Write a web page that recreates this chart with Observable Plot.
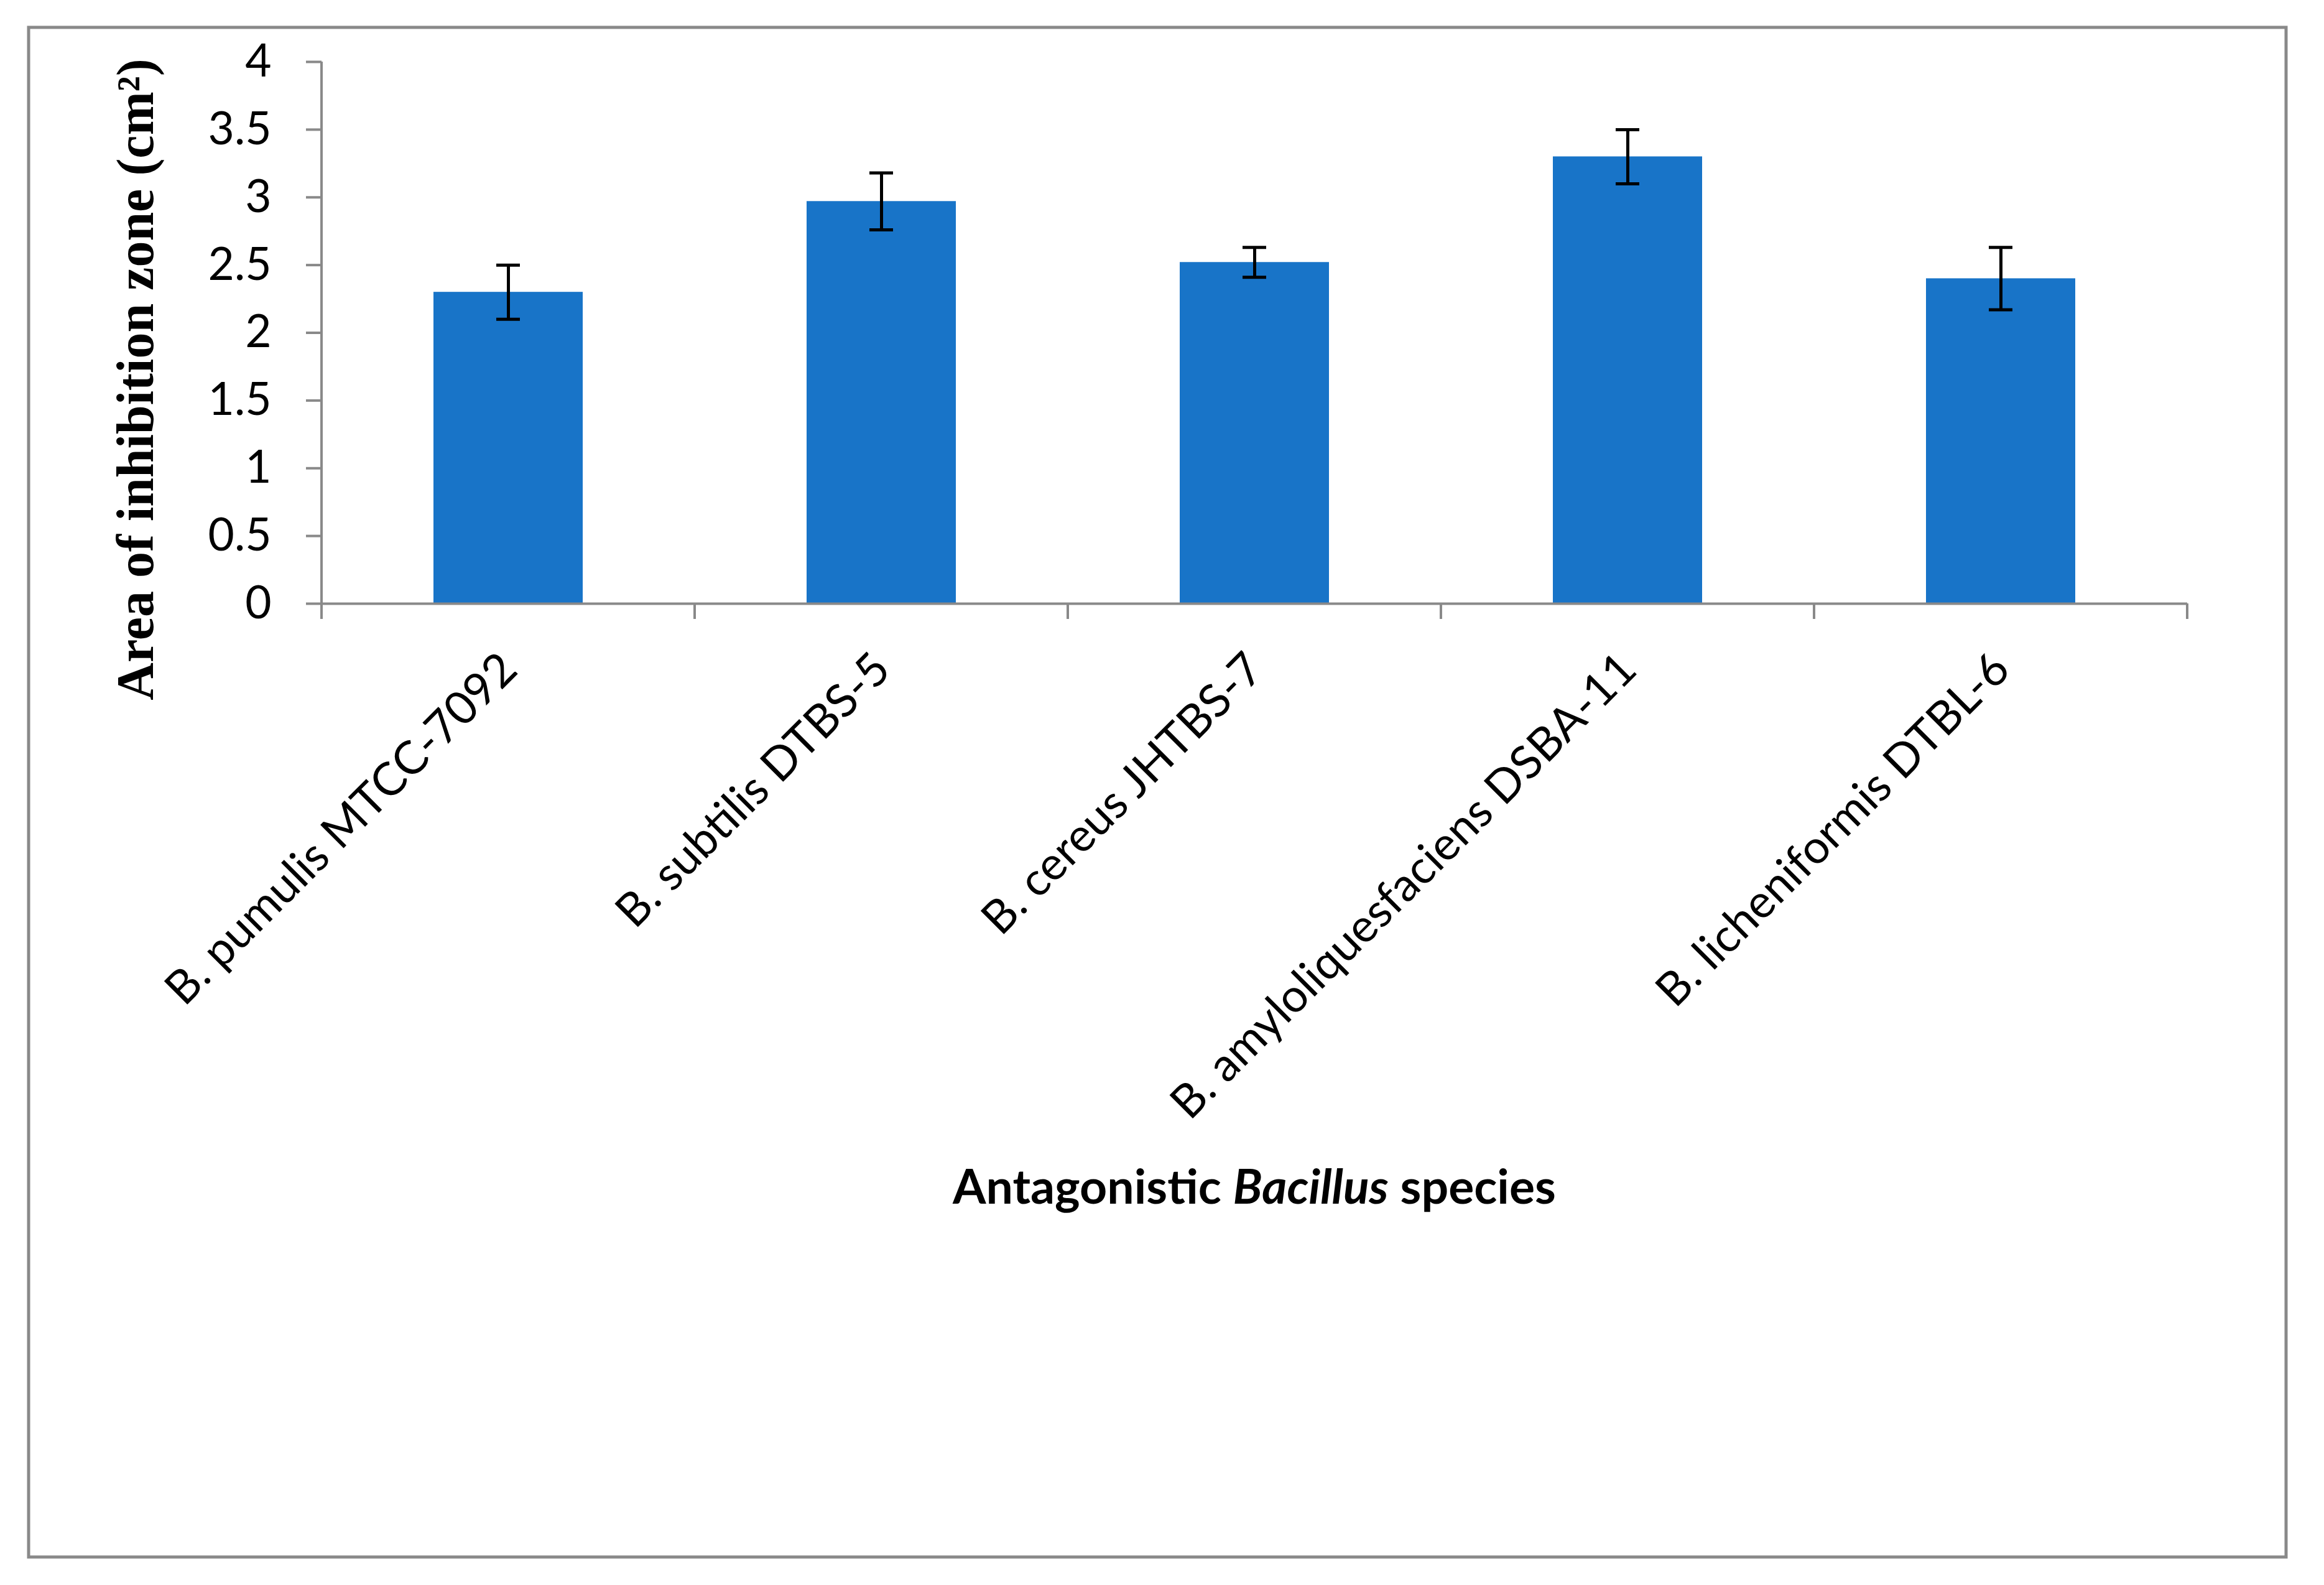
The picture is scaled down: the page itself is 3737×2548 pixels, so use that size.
<!DOCTYPE html>
<html><head><meta charset="utf-8">
<script src="https://cdn.jsdelivr.net/npm/d3@7"></script>
<script src="https://cdn.jsdelivr.net/npm/@observablehq/plot@0.6"></script>
<style>
html,body{margin:0;padding:0;background:#fff;}
#chart{position:relative;width:3737px;height:2548px;}
</style></head><body><div id="chart"></div>
<script>
const categories = ["B. pumulis MTCC-7092","B. subtilis DTBS-5","B. cereus JHTBS-7","B. amyloliquesfaciens DSBA-11","B. licheniformis DTBL-6"];
const means = [2.30, 2.97, 2.52, 3.30, 2.40];
const errors = [0.20, 0.21, 0.11, 0.20, 0.23];
const yTicks = [0, 0.5, 1, 1.5, 2, 2.5, 3, 3.5, 4];
const yTitle = "Area of inhibition zone (cm²)";
const xTitleParts = [["Antagonistic ", "normal"], ["Bacillus", "italic"], [" species", "normal"]];

const data = categories.map((c, i) => ({name: c, mean: means[i], lo: means[i] - errors[i], hi: means[i] + errors[i]}));
const W = 3737, H = 2548, ML = 517, MR = 220, MT = 99, MB = 1578;
const grey = "#898989", blue = "#1874c8";

const plot = Plot.plot({
  width: W, height: H, marginLeft: ML, marginRight: MR, marginTop: MT, marginBottom: MB,
  style: {fontFamily: "Lato", background: "white", overflow: "visible", color: "black"},
  x: {domain: categories, paddingInner: 0.6, paddingOuter: 0.3, label: null},
  y: {domain: [0, 4], label: null},
  marks: [
    Plot.barY(data, {x: "name", y: "mean", fill: blue}),
    Plot.ruleX(data, {x: "name", y1: "lo", y2: "hi", stroke: "black", strokeWidth: 5}),
    Plot.tickY(data, {x: "name", y: "lo", stroke: "black", strokeWidth: 5, insetLeft: 101, insetRight: 101}),
    Plot.tickY(data, {x: "name", y: "hi", stroke: "black", strokeWidth: 5, insetLeft: 101, insetRight: 101}),
    Plot.ruleY([0], {stroke: grey, strokeWidth: 4}),
    Plot.axisY({ticks: yTicks, tickSize: 25, tickPadding: 56, stroke: grey, strokeWidth: 4, fill: "black", fontSize: 73, tickFormat: d => String(d), label: null}),
    Plot.axisX({tickSize: 0, tickPadding: 0, tickRotate: -45, textAnchor: "end", lineAnchor: "bottom", dx: 18, dy: 110, fontSize: 74, fill: "black", label: null})
  ]
});

const svg = d3.select(plot);
const xs = plot.scale("x"), ys = plot.scale("y");
const y0 = ys.apply(0);
const step = xs.step, bw = xs.bandwidth;
// outer chart border
svg.insert("rect", ":first-child")
  .attr("x", 46).attr("y", 44).attr("width", 3630).attr("height", 2459)
  .attr("fill", "none").attr("stroke", grey).attr("stroke-width", 5);
// category boundary ticks + y axis line
const bounds = categories.map(c => xs.apply(c) - (step - bw) / 2);
bounds.push(bounds[bounds.length - 1] + step);
const g = svg.append("g").attr("stroke", grey).attr("stroke-width", 4);
g.append("line").attr("x1", bounds[0]).attr("x2", bounds[0]).attr("y1", ys.apply(4)).attr("y2", y0 + 25);
bounds.forEach(b => g.append("line").attr("x1", b).attr("x2", b).attr("y1", y0).attr("y2", y0 + 25));
// y title
svg.append("text")
  .attr("transform", `translate(246,610) rotate(-90)`)
  .attr("text-anchor", "middle")
  .attr("font-family", "Liberation Serif").attr("font-weight", "bold").attr("font-size", 84)
  .attr("fill", "black").text(yTitle);
// x title
const xt = svg.append("text")
  .attr("x", (bounds[0] + bounds[bounds.length - 1]) / 2).attr("y", 1935)
  .attr("text-anchor", "middle")
  .attr("font-family", "Lato").attr("font-weight", "bold").attr("font-size", 77)
  .attr("fill", "black");
xTitleParts.forEach(([t, s]) => xt.append("tspan").attr("font-style", s).text(t));

document.getElementById("chart").appendChild(plot);
</script></body></html>
